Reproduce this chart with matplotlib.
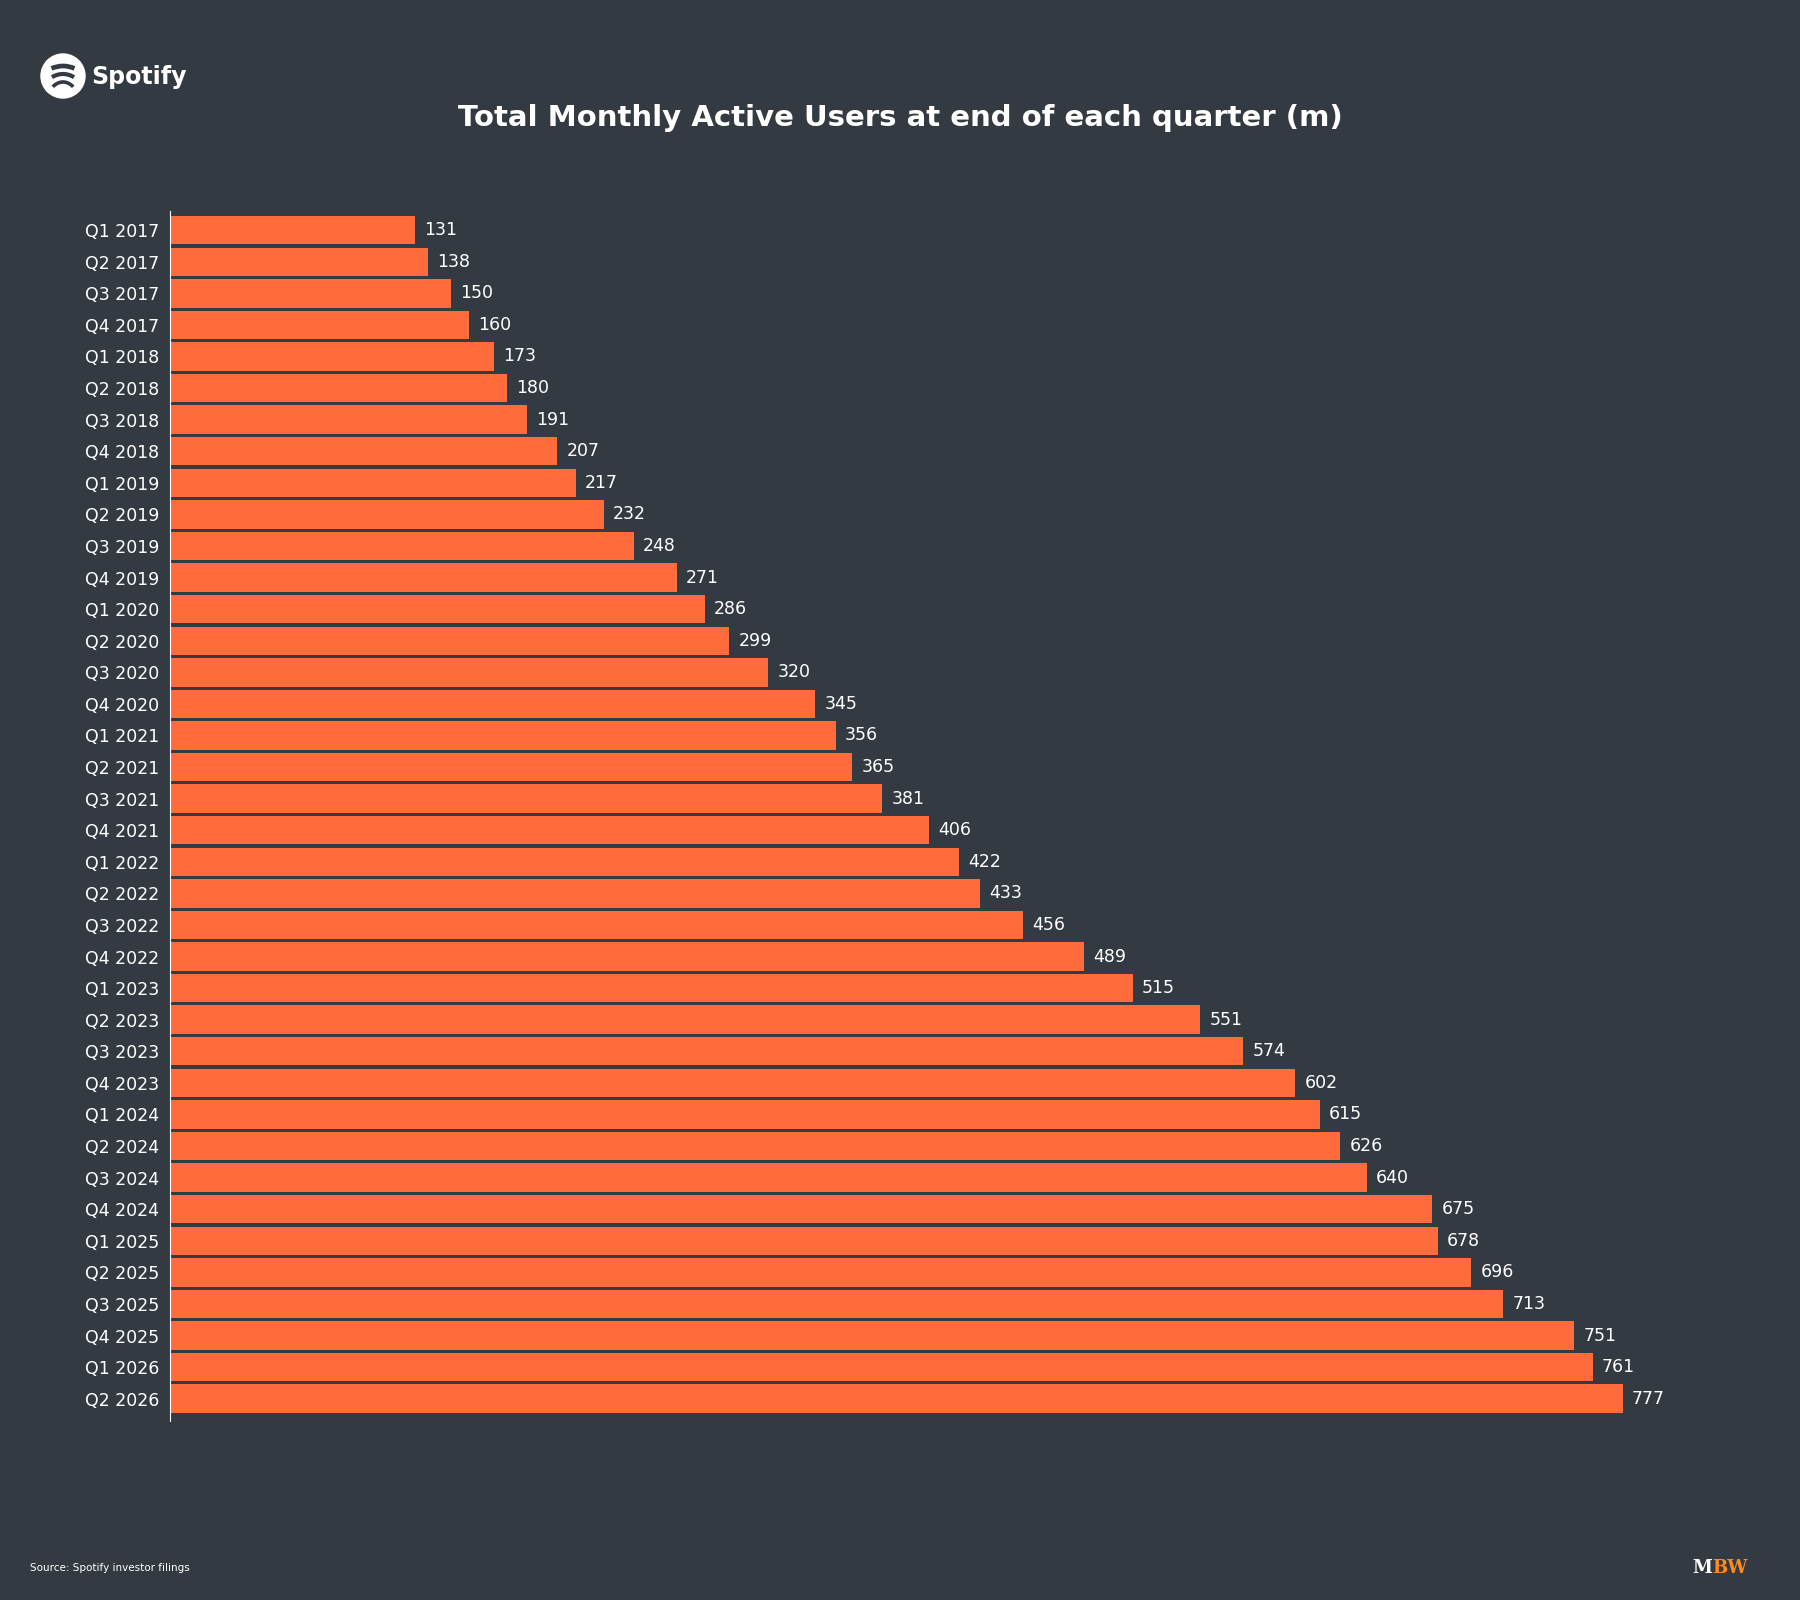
import numpy as np
import matplotlib.pyplot as plt
from matplotlib.patches import Circle, Arc

# Data
years = list(range(2017, 2027))
quarters = [f"Q{q} {y}" for y in years for q in range(1, 5)][:38]
mau = [131, 138, 150, 160, 173, 180, 191, 207, 217, 232, 248, 271, 286, 299,
       320, 345, 356, 365, 381, 406, 422, 433, 456, 489, 515, 551, 574, 602,
       615, 626, 640, 675, 678, 696, 713, 751, 761, 777]

bg = '#343a42'
bar_col = '#ff6b3b'
W, H = 1800, 1600

fig = plt.figure(figsize=(18, 16), dpi=100, facecolor=bg)
ax = fig.add_axes([0.0945, 0.112, 0.862, 0.756])
ax.set_facecolor(bg)

y = np.arange(len(mau))
ax.barh(y, mau, height=0.9, color=bar_col)
for yi, v in zip(y, mau):
    ax.text(v + 5, yi, str(v), va='center', ha='left', color='white', fontsize=12.5)

ax.set_yticks(y)
ax.set_yticklabels(quarters, color='white', fontsize=12.5)
ax.tick_params(axis='y', length=0, pad=8)
ax.set_xticks([])
ax.set_xlim(0, 830)
ax.set_ylim(len(mau) - 0.3, -0.6)
for s in ['top', 'right', 'bottom']:
    ax.spines[s].set_visible(False)
ax.spines['left'].set_color('white')
ax.spines['left'].set_linewidth(0.8)

fig.text(0.5, 0.926, 'Total Monthly Active Users at end of each quarter (m)',
         ha='center', va='center', color='white', fontsize=21, fontweight='bold')

# Spotify logo
cx, cy, r = 63, H - 76, 22
fig.patches.append(Circle((cx, cy), r, transform=None, color='white'))
for dy, w, lw in [(8, 52, 3.4), (0, 44, 3.0), (-8, 34, 2.6)]:
    fig.patches.append(Arc((cx, cy + dy - 22), w, 48, theta1=62, theta2=118,
                           transform=None, color=bg, lw=lw))
fig.text(91 / W, 1 - 77 / H, 'Spotify', color='white', fontsize=17,
         fontweight='bold', va='center', ha='left')

fig.text(30 / W, 1 - 1568 / H, 'Source: Spotify investor filings', color='white',
         fontsize=7.5, va='center', ha='left')
fig.text(1692 / W, 1 - 1568 / H, 'M', color='white', fontsize=13, fontweight='bold',
         family='DejaVu Serif', va='center', ha='left')
fig.text(1712 / W, 1 - 1568 / H, 'BW', color='#ff8a1e', fontsize=13, fontweight='bold',
         family='DejaVu Serif', va='center', ha='left')

fig.savefig('out.png', facecolor=bg)
